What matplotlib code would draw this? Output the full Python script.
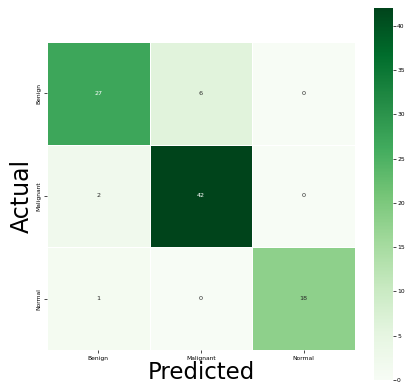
import matplotlib
matplotlib.use("Agg")
import matplotlib.pyplot as plt
import seaborn as sns
import numpy as np

labels = ["Benign", "Malignant", "Normal"]
cm = np.array([[27, 6, 0],
               [2, 42, 0],
               [1, 0, 18]])

fig = plt.figure(figsize=(4.08, 3.85), dpi=100)
ax = fig.add_axes([0.115, 0.091, 0.755, 0.80])
cax = fig.add_axes([0.917, 0.013, 0.046, 0.966])

sns.heatmap(cm, annot=True, fmt="d", cmap="Greens", vmin=0,
            linewidths=0.5, linecolor="white",
            xticklabels=labels, yticklabels=labels,
            annot_kws={"fontsize": 4.6}, ax=ax, cbar_ax=cax)

ax.set_xlabel("Predicted", fontsize=16.5, labelpad=0)
ax.set_ylabel("Actual", fontsize=17, labelpad=2)
ax.tick_params(labelsize=4.3, length=2, width=0.5, pad=2)
cax.tick_params(labelsize=4.3, length=2, width=0.5, pad=1)
for s in cax.spines.values():
    s.set_visible(False)

fig.savefig("out.png", dpi=100)
